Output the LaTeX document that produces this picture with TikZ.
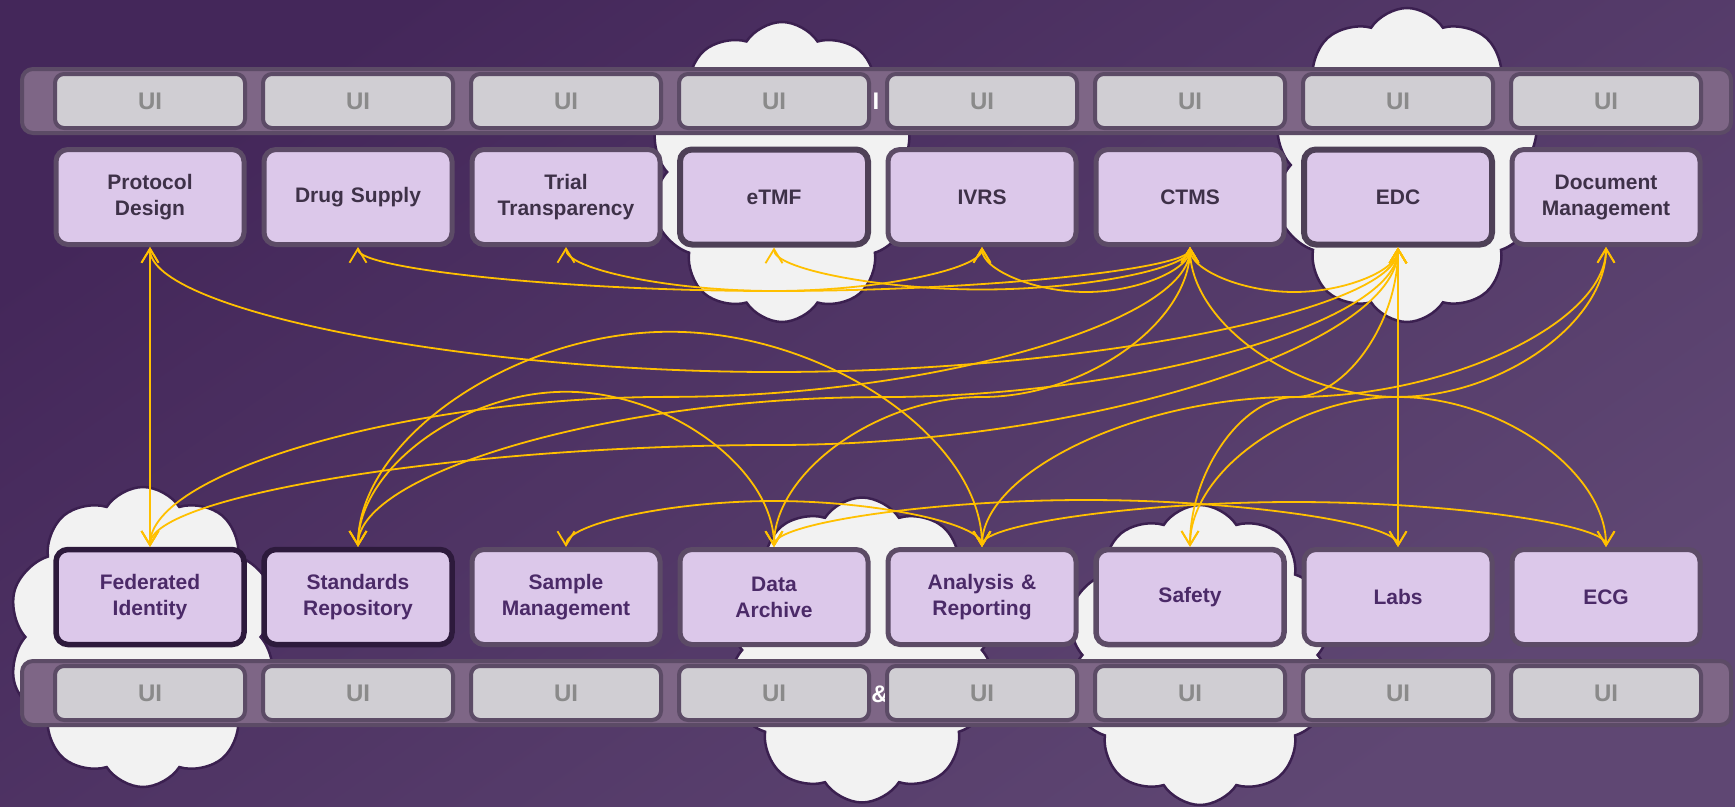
\documentclass[tikz,border=0pt]{standalone}
\usepackage{fontspec}
\setmainfont{Liberation Sans}
\usepackage{xcolor}
\usepackage{tikz}
\usetikzlibrary{arrows.meta, shapes.symbols, calc}
\definecolor{bgdark}{HTML}{44275A}
\definecolor{bglight}{HTML}{5F4773}
\definecolor{modfill}{HTML}{DCC8EA}
\definecolor{modline}{HTML}{5C4B66}
\definecolor{moddark}{HTML}{2D1A3C}
\definecolor{toptext}{HTML}{3E3148}
\definecolor{bottext}{HTML}{4B2A68}
\definecolor{uifill}{HTML}{D0CED3}
\definecolor{uitext}{HTML}{8A8A8A}
\definecolor{barfill}{HTML}{7E6686}
\definecolor{cloudfill}{HTML}{F2F2F2}
\definecolor{cloudline}{HTML}{3B2050}
\definecolor{linkyellow}{HTML}{FFC000}

\tikzset{
  uibar/.style={draw=modline, line width=4pt, fill=barfill, rounded corners=11pt,
    minimum width=1709pt, minimum height=64pt},
  uibox/.style={draw=modline, line width=4pt, fill=uifill, rounded corners=9pt,
    minimum width=190pt, minimum height=54pt, text=uitext,
    font=\bfseries\fontsize{24}{28}\selectfont},
  module/.style={draw=modline, line width=5pt, fill=modfill, rounded corners=12pt,
    minimum width=188pt, minimum height=95pt, text width=180pt, align=center,
    text=toptext, font=\bfseries\fontsize{21}{26}\selectfont},
  hubmodule/.style={module, line width=6pt, draw=modline!85!black},
  lowmodule/.style={module, text=bottext},
  keymodule/.style={lowmodule, draw=moddark, line width=5.5pt},
  puff/.style={cloud, cloud puffs=10, cloud puff arc=115, cloud ignores aspect,
    draw=cloudline, line width=2.5pt, fill=cloudfill},
  remnant/.style={text=white, font=\bfseries\fontsize{24}{28}\selectfont},
  link/.style={draw=linkyellow, line width=1.8pt,
    >={Straight Barb[length=14pt,width=17pt]}, <->},
  udip/.style={to path={let \p1=(\tikztostart), \p2=(\tikztotarget) in
    .. controls (\x1,{\y1-(#1)/2}) and ({0.75*\x1+0.25*\x2},{\y1-(#1)})
    .. ({0.5*\x1+0.5*\x2},{\y1-(#1)})
    .. controls ({0.25*\x1+0.75*\x2},{\y1-(#1)}) and (\x2,{\y2-(#1)/2})
    .. (\tikztotarget)}},
  scurve/.style={to path={let \p1=(\tikztostart), \p2=(\tikztotarget),
      \n1={\y2-(\y1)} in
    .. controls (\x1,{\y1+#1*\n1/2}) and ({0.75*\x1+0.25*\x2},{\y1+#1*\n1})
    .. ({0.5*\x1+0.5*\x2},{\y1+#1*\n1})
    .. controls ({0.25*\x1+0.75*\x2},{\y1+#1*\n1}) and (\x2,{\y1+(1+#1)*\n1/2})
    .. (\tikztotarget)}},
  scurve/.default=0.5
}

\begin{document}
\begin{tikzpicture}[x=1pt, y=-1pt]
  \useasboundingbox (0,0) rectangle (1735,806);
  \shade[top color=bgdark, bottom color=bglight, shading angle=35]
    (0,0) rectangle (1735,806);

  % clouds behind the systems
  \begin{scope}
    \clip (0,0) rectangle (1735,806);
    \node[puff, minimum width=265pt, minimum height=300pt] (cloudtmf) at (782,172) {};
    \node[puff, minimum width=270pt, minimum height=314pt] (cloudedc) at (1407,165) {};
    \node[puff, minimum width=270pt, minimum height=300pt] (cloudfed) at (143,637) {};
    \node[puff, minimum width=275pt, minimum height=305pt] (cloudarc) at (862,650) {};
    \node[puff, minimum width=270pt, minimum height=300pt] (cloudsaf) at (1200,655) {};
  \end{scope}

  % UI bars
  \node[uibar] (topbar) at (876.5,101) {};
  \node[uibar] (botbar) at (876.5,693) {};
  \node[remnant] (tophint) at (876,101) {I};
  \node[remnant] (bothint) at (880,694) {\&};
  \foreach \i in {1,...,8} {
    \node[uibox] (ut\i) at ({150+208*(\i-1)},101) {UI};
    \node[uibox] (ub\i) at ({150+208*(\i-1)},693) {UI};
  }

  % top row
  \node[module] (pd) at (150,197) {Protocol\\Design};
  \node[module] (ds) at (358,197) {Drug Supply};
  \node[module] (tt) at (566,197) {Trial\\Transparency};
  \node[hubmodule] (etmf) at (774,197) {eTMF};
  \node[module] (ivrs) at (982,197) {IVRS};
  \node[module] (ctms) at (1190,197) {CTMS};
  \node[hubmodule] (edc) at (1398,197) {EDC};
  \node[module] (dm) at (1606,197) {Document\\Management};

  % bottom row
  \node[keymodule] (fi) at (150,597) {Federated\\Identity};
  \node[keymodule] (sr) at (358,597) {Standards\\Repository};
  \node[lowmodule] (sm) at (566,597) {Sample\\Management};
  \node[lowmodule] (da) at (774,597) {Data\\Archive};
  \node[lowmodule] (ar) at (982,597) {Analysis \&\\Reporting};
  \node[lowmodule, line width=5.5pt] (safety) at (1190,597) {Safety};
  \node[lowmodule] (labs) at (1398,597) {Labs};
  \node[lowmodule] (ecg) at (1606,597) {ECG};

  % integrations
  \draw[link] (pd.south) -- (fi.north);
  \draw[link] (edc.south) -- (labs.north);
  \draw[link] (pd.south) to[udip=125] (edc.south);
  \draw[link] (ds.south) to[udip=44] (ctms.south);
  \draw[link] (tt.south) to[udip=44] (ivrs.south);
  \draw[link] (etmf.south) to[udip=42] (ctms.south);
  \draw[link] (ivrs.south) to[udip=45] (ctms.south);
  \draw[link] (ctms.south) to[udip=45] (edc.south);
  \draw[link] (sr.north) to[udip=-215] (ar.north);
  \draw[link] (sr.north) to[udip=-155] (da.north);
  \draw[link] (sm.north) to[udip=-46] (ar.north);
  \draw[link] (da.north) to[udip=-47] (labs.north);
  \draw[link] (ar.north) to[udip=-45] (ecg.north);
  \draw[link] (fi.north) to[scurve] (ctms.south);
  \draw[link] (fi.north) to[scurve=0.34] (edc.south);
  \draw[link] (sr.north) to[scurve] (edc.south);
  \draw[link] (da.north) to[scurve] (ctms.south);
  \draw[link] (ar.north) to[scurve] (dm.south);
  \draw[link] (safety.north) to[scurve] (edc.south);
  \draw[link] (safety.north) to[scurve] (dm.south);
  \draw[link] (ecg.north) to[scurve] (ctms.south);
\end{tikzpicture}
\end{document}
